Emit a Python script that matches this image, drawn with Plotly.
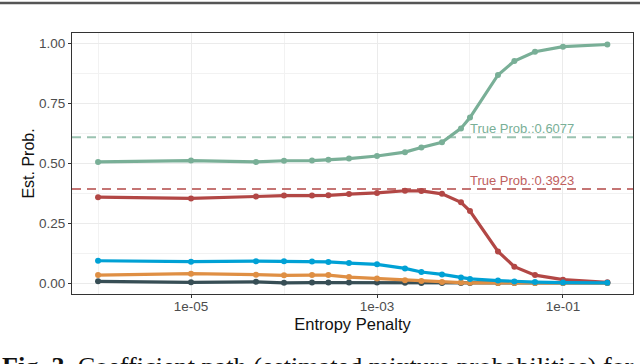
import plotly.graph_objects as go

# penalty grid (x) and estimated mixture probabilities per component
penalty = [1e-6, 1e-5, 5e-5, 1e-4, 2e-4, 3e-4, 5e-4, 1e-3, 2e-3, 3e-3,
           5e-3, 8e-3, 1e-2, 2e-2, 3e-2, 5e-2, 1e-1, 3e-1]

comp_dark = [0.007, 0.003, 0.005, 0.001, 0.002, 0.002, 0.002, 0.002, 0.001, 0.0005,
             0.0, 0.0, 0.0, 0.0, 0.0, 0.0, 0.0, 0.0]
comp_orange = [0.033, 0.039, 0.035, 0.032, 0.033, 0.033, 0.025, 0.019, 0.012, 0.008,
               0.004, 0.002, 0.001, 0.0, 0.0, 0.0, 0.0, 0.0]
comp_blue = [0.093, 0.089, 0.091, 0.091, 0.090, 0.088, 0.083, 0.078, 0.061, 0.046,
             0.036, 0.023, 0.017, 0.010, 0.006, 0.004, 0.002, 0.001]
comp_red = [0.358, 0.353, 0.361, 0.365, 0.365, 0.366, 0.371, 0.376, 0.385, 0.384,
            0.372, 0.337, 0.300, 0.132, 0.068, 0.033, 0.014, 0.003]
comp_green = [0.505, 0.511, 0.505, 0.510, 0.511, 0.514, 0.519, 0.530, 0.546, 0.565,
              0.587, 0.645, 0.690, 0.868, 0.926, 0.965, 0.986, 0.995]

true_probs = [0.6077, 0.3923]
x_ticks = [1e-5, 1e-3, 1e-1]
x_ticklabels = ["1e-05", "1e-03", "1e-01"]
y_ticks = [0.0, 0.25, 0.5, 0.75, 1.0]
y_ticklabels = ["0.00", "0.25", "0.50", "0.75", "1.00"]

GREEN = "#79AF97"
RED = "#B24745"

fig = go.Figure()

# draw order: dark, orange, red, blue, green
for ys, col in [(comp_dark, "#374E55"), (comp_orange, "#DF8F44"), (comp_red, RED),
                (comp_blue, "#00A1D5"), (comp_green, GREEN)]:
    fig.add_trace(go.Scatter(x=penalty, y=ys, mode="lines+markers",
                             line=dict(color=col, width=3.2),
                             marker=dict(color=col, size=6),
                             showlegend=False))

# true probabilities as dashed horizontal lines
fig.add_hline(y=true_probs[0], line=dict(color="rgba(121,175,151,0.75)", width=2, dash="9px,6px"))
fig.add_hline(y=true_probs[1], line=dict(color="rgba(178,71,69,0.75)", width=2, dash="9px,6px"))
fig.add_annotation(x=-1.44, y=true_probs[0], text="True Prob.:%.4f" % true_probs[0],
                   showarrow=False, yanchor="bottom", yshift=-1,
                   font=dict(color=GREEN, size=13))
fig.add_annotation(x=-1.44, y=true_probs[1], text="True Prob.:%.4f" % true_probs[1],
                   showarrow=False, yanchor="bottom", yshift=-1,
                   font=dict(color="#C0605E", size=13))

# page decoration: rule at top and cut caption at bottom
fig.add_shape(type="line", xref="paper", yref="paper", x0=-0.13, x1=1.02,
              y0=1.1148, y1=1.1148, line=dict(color="#555555", width=2.5))
fig.add_annotation(xref="paper", yref="paper", x=-0.128, y=-0.214,
                   xanchor="left", yanchor="top", showarrow=False,
                   text="<b>Fig. 3.</b> Coefficient path (estimated mixture probabilities) for",
                   font=dict(family="Liberation Serif", size=26.2, color="#111111"))

axis_common = dict(showline=True, mirror=True, linecolor="#333333", linewidth=1.2,
                   gridcolor="#EBEBEB", gridwidth=1.1, ticks="outside", ticklen=3,
                   tickcolor="#333333", tickfont=dict(size=13.5, color="#4D4D4D"),
                   zeroline=False, automargin=False)

fig.update_xaxes(type="log", range=[-6.28, -0.247], tickvals=x_ticks, ticktext=x_ticklabels,
                 ticklabelstandoff=-3,
                 minor=dict(tickvals=[1e-6, 1e-4, 1e-2], showgrid=True,
                            gridcolor="#F2F2F2", gridwidth=0.8, ticks=""),
                 title=dict(text="Entropy Penalty", font=dict(size=16.5, color="#111111"),
                            standoff=5),
                 **axis_common)
fig.update_yaxes(range=[-0.0458, 1.043], tickvals=y_ticks, ticktext=y_ticklabels,
                 minor=dict(tickvals=[0.125, 0.375, 0.625, 0.875], showgrid=True,
                            gridcolor="#F2F2F2", gridwidth=0.8, ticks=""),
                 title=dict(text="Est. Prob.", font=dict(size=16, color="#111111"),
                            standoff=0),
                 **axis_common)

fig.update_layout(width=640, height=364, margin=dict(l=72, r=7, t=33, b=70),
                  plot_bgcolor="white", paper_bgcolor="white",
                  font=dict(family="Liberation Sans, Arial, sans-serif"))

fig.write_html("out.html", config={"displayModeBar": False},
               post_script="document.body.style.margin='0';")
